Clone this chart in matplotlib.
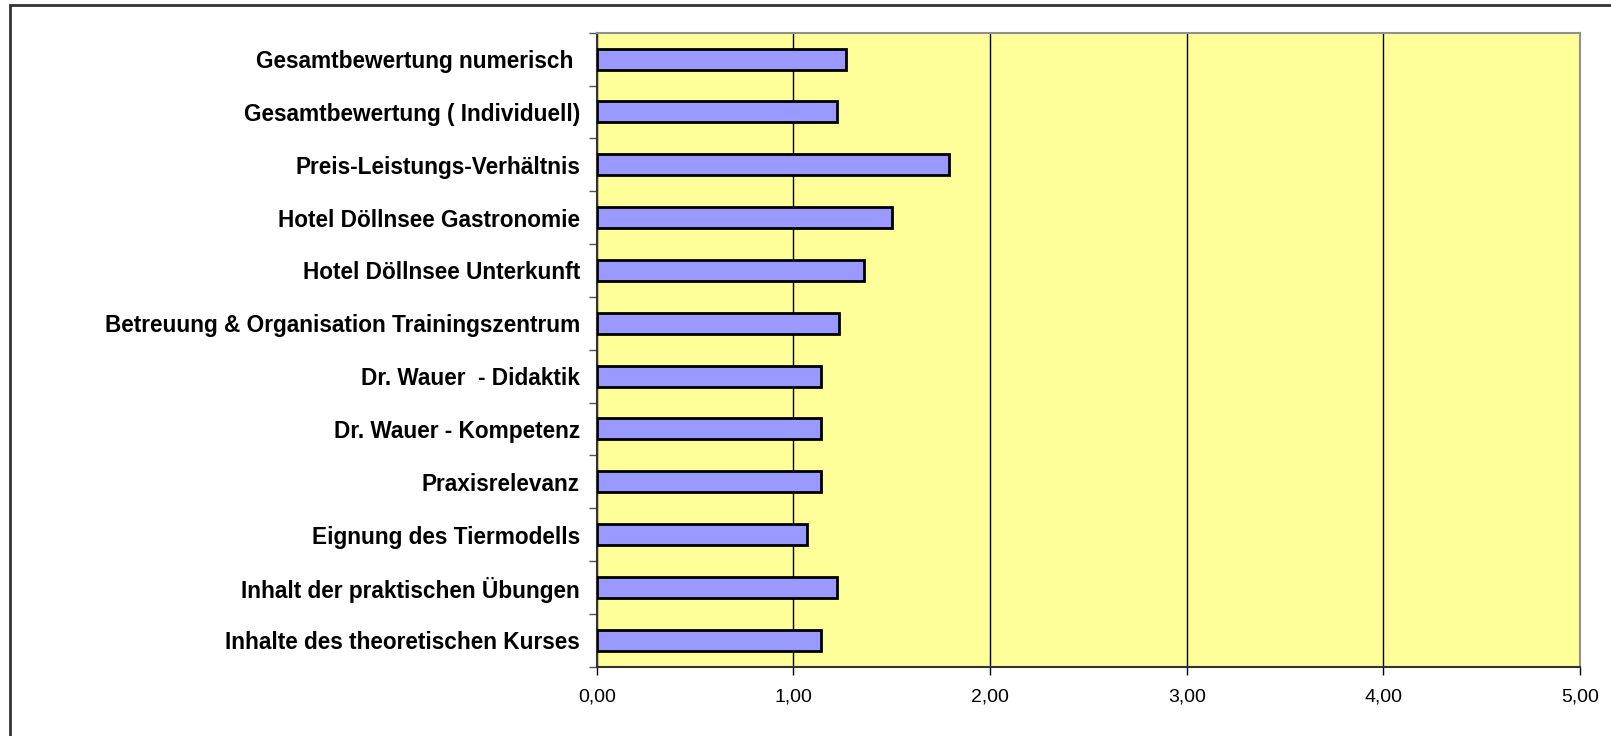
import numpy as np
import matplotlib.pyplot as plt
from matplotlib.patches import Rectangle
from matplotlib.ticker import FixedLocator, FuncFormatter

# bottom to top
categories = [
    'Inhalte des theoretischen Kurses',
    'Inhalt der praktischen Übungen',
    'Eignung des Tiermodells',
    'Praxisrelevanz',
    'Dr. Wauer - Kompetenz',
    'Dr. Wauer  - Didaktik',
    'Betreuung & Organisation Trainingszentrum',
    'Hotel Döllnsee Unterkunft',
    'Hotel Döllnsee Gastronomie',
    'Preis-Leistungs-Verhältnis',
    'Gesamtbewertung ( Individuell)',
    'Gesamtbewertung numerisch ',
]
scores = [1.14, 1.22, 1.07, 1.14, 1.14, 1.14, 1.23, 1.36, 1.50, 1.79, 1.22, 1.27]
x_ticks = [0, 1, 2, 3, 4, 5]

plt.rcParams['font.family'] = ['Liberation Sans', 'DejaVu Sans']

fig = plt.figure(figsize=(16.11, 7.36), dpi=100)
# outer chart frame, cut off at the right and bottom like the source
fig.patches.append(Rectangle((0.0065, -0.05), 1.05, 1.043, transform=fig.transFigure,
                             fill=False, edgecolor='#333333', linewidth=2))

ax = fig.add_axes([0.3704, 0.0942, 0.6104, 0.8614])
ax.set_facecolor('#FFFF99')

index = np.arange(len(categories))
ax.barh(index, scores, height=0.4, color='#9999FF', edgecolor='black',
        linewidth=2, zorder=3)

ax.set_xlim(0, 5)
ax.set_ylim(-0.5, len(categories) - 0.5)

ax.set_xticks(x_ticks)
ax.xaxis.set_major_formatter(FuncFormatter(lambda v, p: ('%.2f' % v).replace('.', ',')))
ax.tick_params(axis='x', direction='out', length=6, width=1, colors='black',
               labelsize=14, pad=10)
ax.grid(axis='x', color='black', linewidth=1, zorder=1)

# ticks between categories, labels in the middle
ax.yaxis.set_major_locator(FixedLocator(np.arange(-0.5, len(categories), 1)))
ax.yaxis.set_major_formatter(FuncFormatter(lambda v, p: ''))
ax.yaxis.set_minor_locator(FixedLocator(index))
ax.set_yticklabels(categories, minor=True, fontweight='bold', fontsize=16.3)
ax.tick_params(axis='y', which='major', direction='out', length=6, width=1, color='#555555')
ax.tick_params(axis='y', which='minor', length=0, pad=12)

ax.spines['top'].set_color('#909090')
ax.spines['right'].set_color('#909090')
ax.spines['top'].set_linewidth(1.5)
ax.spines['right'].set_linewidth(1.5)
ax.spines['left'].set_color('#333333')
ax.spines['bottom'].set_color('#333333')
ax.spines['left'].set_linewidth(1.5)
ax.spines['bottom'].set_linewidth(1.5)

plt.savefig('out.png', dpi=100)
